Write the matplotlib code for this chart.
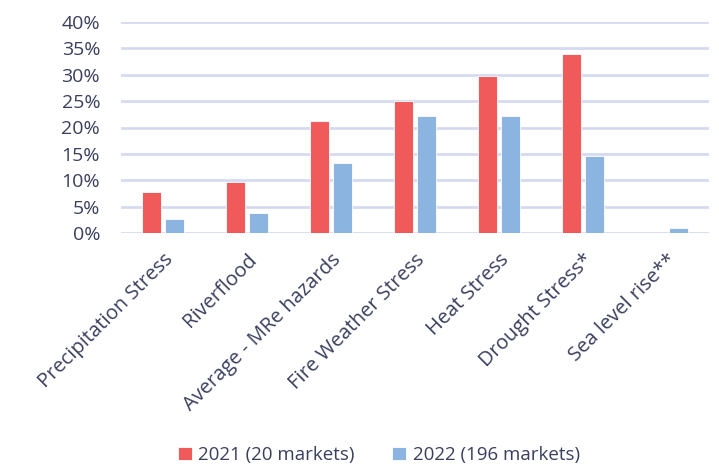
import matplotlib
matplotlib.use("Agg")
import matplotlib.pyplot as plt
import numpy as np
from matplotlib.ticker import FuncFormatter, MultipleLocator

categories = ["Precipitation Stress", "Riverflood", "Average - MRe hazards",
              "Fire Weather Stress", "Heat Stress", "Drought Stress*", "Sea level rise**"]
values_2021 = [7.7, 9.7, 21.2, 25.1, 29.8, 34.0, 0.0]
values_2022 = [2.6, 3.7, 13.2, 22.2, 22.1, 14.6, 1.0]
series_labels = ["2021 (20 markets)", "2022 (196 markets)"]

RED = "#F05A5B"
BLUE = "#8CB4E0"
TEXT = "#3A3F5E"
GRID = "#D6DAF0"

plt.rcParams["font.family"] = ["Open Sans", "DejaVu Sans"]

fig = plt.figure(figsize=(7.19, 4.68), dpi=100)
ax = fig.add_axes([121 / 719, 1 - 233 / 468, 588 / 719, 211 / 468])

x = np.arange(len(categories))
w = 0.225
off = 0.142
ax.bar(x - off, values_2021, width=w, color=RED, edgecolor="white", linewidth=0.6,
       label=series_labels[0], zorder=3)
ax.bar(x + off, values_2022, width=w, color=BLUE, edgecolor="white", linewidth=0.6,
       label=series_labels[1], zorder=3)

ax.set_xlim(-0.5, len(categories) - 0.5)
ax.set_ylim(0, 40)
ax.yaxis.set_major_locator(MultipleLocator(5))
ax.yaxis.set_major_formatter(FuncFormatter(lambda v, p: f"{v:.0f}%"))
ax.grid(axis="y", color=GRID, linewidth=2, zorder=0)
for s in ax.spines.values():
    s.set_visible(False)
ax.tick_params(axis="y", length=0, colors=TEXT, labelsize=14, pad=15)
ax.set_xticks(x)
ax.set_xticklabels(categories, rotation=45, ha="right", rotation_mode="anchor")
ax.tick_params(axis="x", length=0, colors=TEXT, labelsize=14.5, pad=12)
for lbl in ax.get_xticklabels() + ax.get_yticklabels():
    lbl.set_color(TEXT)

leg = fig.legend(loc="center", bbox_to_anchor=(0.527, 1 - 455 / 468), ncol=2, frameon=False,
                 fontsize=13.5, handlelength=0.75, handleheight=0.75, handletextpad=0.35,
                 columnspacing=2.0)
for t in leg.get_texts():
    t.set_color(TEXT)

fig.savefig("out.png", dpi=100)
